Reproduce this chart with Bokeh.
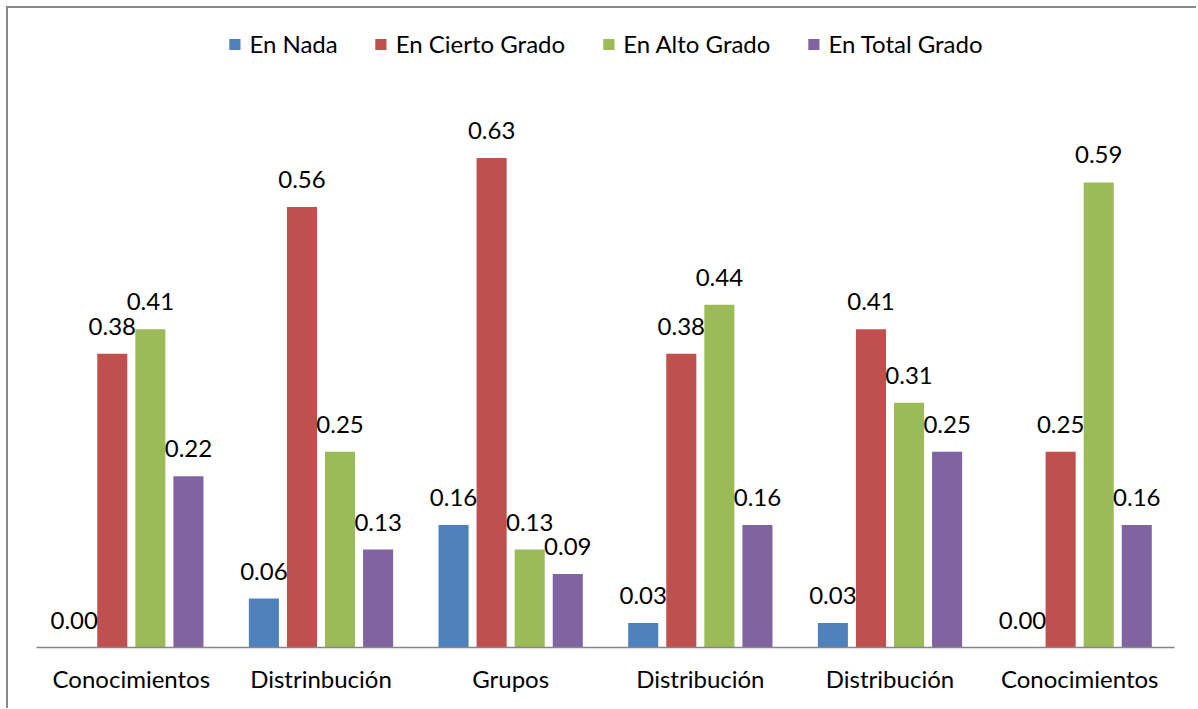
from decimal import Decimal, ROUND_HALF_UP
from bokeh.plotting import figure
from bokeh.core.properties import value
from bokeh.models import ColumnDataSource, FixedTicker, LabelSet, Legend, LegendItem, Range1d
from bokeh.transform import dodge
from bokeh.embed import file_html
from bokeh.resources import INLINE

categories = ["Conocimientos", "Distrinbución", "Grupos", "Distribución", "Distribución", "Conocimientos"]
series_names = ["En Nada", "En Cierto Grado", "En Alto Grado", "En Total Grado"]
en_nada = [0.0, 0.0625, 0.15625, 0.03125, 0.03125, 0.0]
en_cierto = [0.375, 0.5625, 0.625, 0.375, 0.40625, 0.25]
en_alto = [0.40625, 0.25, 0.125, 0.4375, 0.3125, 0.59375]
en_total = [0.21875, 0.125, 0.09375, 0.15625, 0.25, 0.15625]
colors = ["#4F81BD", "#C0504D", "#9BBB59", "#8064A2"]

FONT = "Lato"
FS = "24px"

def fmt(v):
    return str(Decimal(str(v)).quantize(Decimal("0.01"), rounding=ROUND_HALF_UP))

p = figure(width=1190, height=702, output_backend="svg", toolbar_location=None,
           x_range=Range1d(-0.5, len(categories) - 0.5), y_range=Range1d(0, 0.8158),
           min_border_left=28, min_border_right=24, min_border_top=0, min_border_bottom=63)
p.styles = {"border-left": "2px solid #878787", "border-top": "2px solid #878787",
            "margin-left": "6px", "margin-top": "6px"}
p.outline_line_color = None
p.xgrid.visible = False
p.ygrid.visible = False
p.yaxis.visible = False

xs = list(range(len(categories)))
step = 38 / 189.3
width = 30 / 189.3
offsets = [-1.5 * step, -0.5 * step, 0.5 * step, 1.5 * step]

items = []
for name, vals, col, off in zip(series_names, [en_nada, en_cierto, en_alto, en_total], colors, offsets):
    src = ColumnDataSource(dict(x=xs, top=vals, label=[fmt(v) for v in vals]))
    r = p.vbar(x=dodge("x", off), top="top", width=width, source=src, fill_color=col, line_color=None)
    items.append(LegendItem(label=name, renderers=[r]))
    labels = LabelSet(x=dodge("x", off), y="top", text="label", source=src, text_align="center",
                      text_baseline="alphabetic", y_offset=19, text_font=value(FONT),
                      text_font_size=value(FS), text_color="#000000")
    p.add_layout(labels)

legend = Legend(items=items, orientation="horizontal", location="top_center",
                label_text_font=FONT, label_text_font_size=FS, label_text_color="#000000",
                glyph_width=14, glyph_height=14, label_standoff=8, spacing=36,
                padding=0, margin=21, border_line_color=None, background_fill_alpha=0)
p.add_layout(legend)

p.xaxis.ticker = FixedTicker(ticks=xs)
p.xaxis.major_label_overrides = {i: c for i, c in enumerate(categories)}
p.xaxis.major_label_text_font = FONT
p.xaxis.major_label_text_font_size = FS
p.xaxis.major_label_text_color = "#000000"
p.xaxis.major_label_standoff = 10
p.xaxis.major_tick_line_color = None
p.xaxis.minor_tick_line_color = None
p.xaxis.axis_line_color = "#868686"
p.xaxis.axis_line_width = 1.5

open("out.html", "w").write(file_html(p, INLINE))
